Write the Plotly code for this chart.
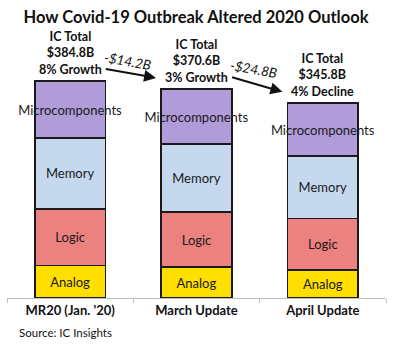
import plotly.graph_objects as go

categories = ["MR20 (Jan. '20)", "March Update", "April Update"]
segments = ["Analog", "Logic", "Memory", "Microcomponents"]
analog = [58.0, 55.0, 49.7]
logic = [100.0, 97.4, 91.8]
memory = [126.0, 120.8, 110.2]
micro = [100.8, 97.4, 94.1]
totals = [384.8, 370.6, 345.8]
growth = [8, 3, -4]

colors = {"Analog": "#fedf00", "Logic": "#ec8280", "Memory": "#c5d8ee", "Microcomponents": "#b09cd8"}
values = {"Analog": analog, "Logic": logic, "Memory": memory, "Microcomponents": micro}

FONT = "Lato"
fig = go.Figure()
for s in segments:
    fig.add_trace(go.Bar(
        x=categories, y=values[s], name=s,
        marker=dict(color=colors[s], line=dict(color="#1a1a1a", width=1.5)),
        width=0.56,
        text=[s] * 3, textposition="inside", insidetextanchor="middle",
        constraintext="none", textangle=0,
        textfont=dict(family=FONT, size=13, color="#1a1a1a"),
        hoverinfo="skip",
    ))

annotations = []
for i, (c, t, g) in enumerate(zip(categories, totals, growth)):
    word = "Growth" if g >= 0 else "Decline"
    annotations.append(dict(
        x=i, y=t, xref="x", yref="y", yanchor="bottom", yshift=2,
        text=f"<b>IC Total<br>${t:.1f}B<br>{abs(g)}% {word}</b>", showarrow=False,
        font=dict(family=FONT, size=12.5, color="#111111"), align="center"))

for i in range(len(totals) - 1):
    diff = totals[i + 1] - totals[i]
    annotations.append(dict(
        x=i + 0.68, y=totals[i + 1] + 20, ax=i + 0.27, ay=totals[i] + 22,
        xref="x", yref="y", axref="x", ayref="y", text="", showarrow=True,
        arrowhead=2, arrowsize=1.2, arrowwidth=2, arrowcolor="#111111"))
    annotations.append(dict(
        x=i + 0.45, y=totals[i] + 36, xref="x", yref="y", showarrow=False,
        text=f"-${abs(diff):.1f}B", textangle=10,
        font=dict(family=FONT, size=13.5, color="#111111", style="italic")))

annotations.append(dict(
    x=0.026, y=-0.127, xref="paper", yref="paper", xanchor="left", yanchor="middle",
    text="Source: IC Insights", showarrow=False,
    font=dict(family=FONT, size=11.5, color="#111111")))

fig.update_layout(
    barmode="stack", width=400, height=354,
    margin=dict(l=7, r=14, t=30, b=56),
    plot_bgcolor="white", paper_bgcolor="white", showlegend=False,
    title=dict(text="<b>How Covid-19 Outbreak Altered 2020 Outlook</b>",
               x=0.49, xanchor="center", y=1 - 17 / 354, yanchor="middle", yref="container",
               font=dict(family=FONT, size=16.5, color="#111111")),
    annotations=annotations,
    xaxis=dict(range=[-0.5, 2.5], showline=True, linecolor="#bfbfbf", linewidth=1,
               ticks="outside", tickson="boundaries", ticklen=4, tickcolor="#bfbfbf",
               tickfont=dict(family=FONT, size=13, color="#111111"),
               tickvals=categories, ticktext=[f"<b>{c}</b>" for c in categories]),
    yaxis=dict(range=[0, 475.6], visible=False, showgrid=False),
)
fig.write_html("out.html")
